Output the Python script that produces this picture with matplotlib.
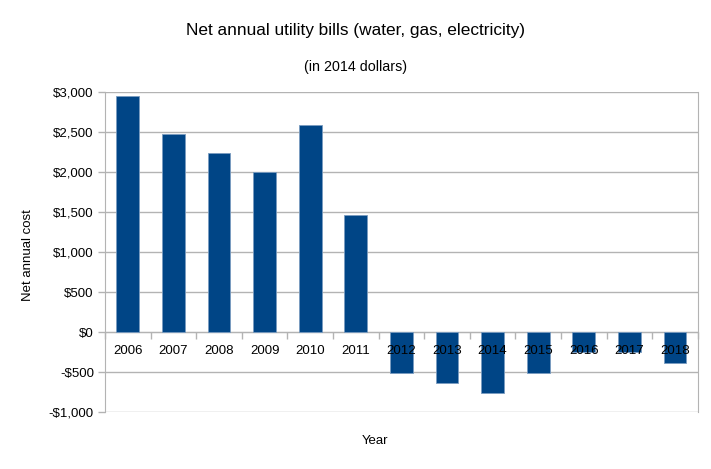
import matplotlib
matplotlib.use("Agg")
import matplotlib.pyplot as plt
from matplotlib.ticker import FuncFormatter, MultipleLocator, FixedLocator
import numpy as np

years = ["2006", "2007", "2008", "2009", "2010", "2011", "2012",
         "2013", "2014", "2015", "2016", "2017", "2018"]
net_cost = [2950, 2475, 2237, 2005, 2587, 1462, -510,
            -635, -762, -510, -255, -255, -385]

title = "Net annual utility bills (water, gas, electricity)"
subtitle = "(in 2014 dollars)"
x_label = "Year"
y_label = "Net annual cost"

plt.rcParams['font.family'] = ['Liberation Sans', 'DejaVu Sans']

fig = plt.figure(figsize=(7.11, 4.69), dpi=100)
ax = fig.add_axes([105/711, 1-412/469, (697.7-105)/711, (412-92)/469])

grid_c = "#b3b3b3"
x = np.arange(len(years))
ax.bar(x, net_cost, width=0.5, color="#004586", edgecolor="#7a9cc0",
       linewidth=0.6, zorder=1)

ax.set_xlim(-0.5, len(years) - 0.5)
ax.set_ylim(-1000, 3000)
ax.yaxis.set_major_locator(MultipleLocator(500))

def money(v, pos):
    if v < 0:
        return "-${:,.0f}".format(-v)
    return "${:,.0f}".format(v)

ax.yaxis.set_major_formatter(FuncFormatter(money))
ax.grid(axis='y', color=grid_c, linewidth=1.0)
ax.set_axisbelow(True)
ax.xaxis.set_zorder(3)

ax.spines['bottom'].set_position(('data', 0))
ax.spines['bottom'].set_zorder(0.5)
for s in ['left', 'right', 'bottom']:
    ax.spines[s].set_color(grid_c)
ax.spines['top'].set_visible(False)

ax.set_xticks(x)
ax.set_xticklabels(years)
ax.xaxis.set_minor_locator(FixedLocator(np.arange(len(years) + 1) - 0.5))
ax.tick_params(axis='x', which='major', length=0, pad=9, labelsize=9.5,
               labelcolor='black')
ax.tick_params(axis='x', which='minor', length=5, color=grid_c, width=1)
ax.tick_params(axis='y', length=5, color=grid_c, width=1, pad=3,
               labelsize=9.5, labelcolor='black')

fig.text(0.5, 1 - 30/469, title, ha='center', va='center', fontsize=12.4)
fig.text(0.5, 1 - 67/469, subtitle, ha='center', va='center', fontsize=10.3)
fig.text(375/711, 1 - 441/469, x_label, ha='center', va='center', fontsize=9.5)
fig.text(28/711, 1 - 255/469, y_label, ha='center', va='center',
         rotation=90, fontsize=9.5)

fig.savefig("out.png", dpi=100, facecolor='white')
